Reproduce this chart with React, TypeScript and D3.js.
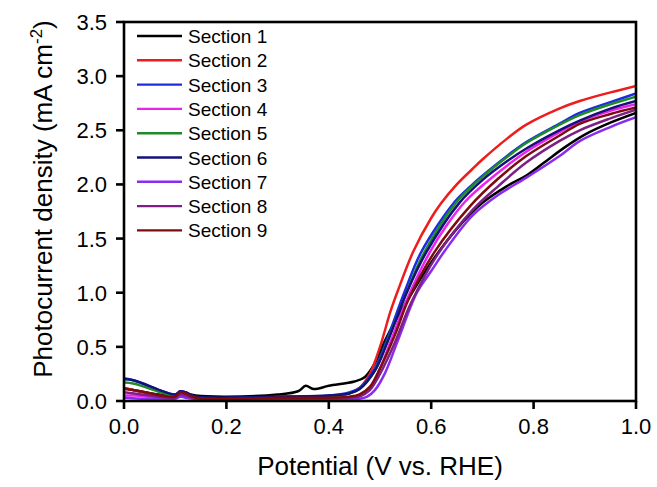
import React from "react";
import * as d3 from "d3";

type Pt = [number, number];

const seriesNames: string[] = [
  "Section 1", "Section 2", "Section 3", "Section 4", "Section 5",
  "Section 6", "Section 7", "Section 8", "Section 9",
];

const seriesColors: string[] = [
  "#000000", "#ee1c1c", "#1f2be0", "#ee22ee", "#1f8a2a",
  "#12127a", "#8a2cf0", "#7e1f84", "#7c0c10",
];

const section1: Pt[] = [
  [0, 0.12], [0.02, 0.1], [0.1, 0.05], [0.11, 0.08], [0.12, 0.08], [0.13, 0.06], [0.14, 0.05],
  [0.2, 0.04], [0.3, 0.06], [0.34, 0.09], [0.355, 0.14], [0.37, 0.11], [0.4, 0.14], [0.45, 0.18],
  [0.47, 0.22], [0.49, 0.35], [0.51, 0.56], [0.53, 0.74], [0.56, 0.98], [0.6, 1.28], [0.65, 1.59],
  [0.7, 1.83], [0.75, 1.99], [0.785, 2.08], [0.82, 2.2], [0.86, 2.34], [0.9, 2.46], [0.95, 2.57], [1.0, 2.66],
];

const section2: Pt[] = [
  [0, 0.12], [0.02, 0.1], [0.1, 0.04], [0.11, 0.09], [0.12, 0.07], [0.14, 0.03], [0.3, 0.03],
  [0.4, 0.04], [0.44, 0.07], [0.46, 0.12], [0.48, 0.25], [0.5, 0.5], [0.52, 0.82], [0.535, 1.02],
  [0.565, 1.38], [0.6, 1.69], [0.62, 1.83], [0.65, 2.0], [0.68, 2.14], [0.7, 2.23], [0.75, 2.43],
  [0.785, 2.55], [0.85, 2.7], [0.89, 2.77], [0.95, 2.85], [1.0, 2.91],
];

const section3: Pt[] = [
  [0, 0.21], [0.02, 0.19], [0.1, 0.06], [0.11, 0.09], [0.12, 0.08], [0.14, 0.04], [0.3, 0.04],
  [0.4, 0.05], [0.44, 0.08], [0.46, 0.12], [0.49, 0.3], [0.513, 0.56], [0.549, 1.02], [0.581, 1.38],
  [0.646, 1.84], [0.676, 1.98], [0.7, 2.08], [0.75, 2.27], [0.785, 2.39], [0.85, 2.56], [0.89, 2.66],
  [0.95, 2.76], [1.0, 2.84],
];

const section4: Pt[] = [
  [0, 0.05], [0.02, 0.05], [0.1, 0.03], [0.11, 0.06], [0.12, 0.05], [0.14, 0.02], [0.3, 0.02],
  [0.44, 0.03], [0.46, 0.05], [0.48, 0.12], [0.5, 0.3], [0.525, 0.6], [0.552, 0.93], [0.598, 1.38],
  [0.63, 1.62], [0.666, 1.84], [0.7, 1.99], [0.75, 2.18], [0.785, 2.3], [0.85, 2.48], [0.89, 2.58],
  [0.95, 2.68], [1.0, 2.74],
];

const section5: Pt[] = [
  [0, 0.17], [0.02, 0.16], [0.1, 0.05], [0.11, 0.08], [0.12, 0.07], [0.14, 0.03], [0.3, 0.03],
  [0.4, 0.04], [0.44, 0.07], [0.46, 0.11], [0.49, 0.28], [0.515, 0.56], [0.55, 0.98], [0.585, 1.36],
  [0.65, 1.84], [0.7, 2.07], [0.75, 2.26], [0.785, 2.38], [0.85, 2.55], [0.89, 2.64], [0.95, 2.74], [1.0, 2.81],
];

const section6: Pt[] = [
  [0, 0.2], [0.02, 0.19], [0.1, 0.06], [0.11, 0.09], [0.12, 0.08], [0.14, 0.04], [0.3, 0.04],
  [0.4, 0.05], [0.44, 0.07], [0.46, 0.11], [0.49, 0.28], [0.515, 0.55], [0.552, 1.0], [0.59, 1.37],
  [0.655, 1.83], [0.7, 2.04], [0.75, 2.22], [0.785, 2.33], [0.85, 2.5], [0.89, 2.59], [0.95, 2.7], [1.0, 2.77],
];

const section7: Pt[] = [
  [0, 0.03], [0.1, 0.02], [0.11, 0.04], [0.12, 0.03], [0.14, 0.02], [0.3, 0.02], [0.46, 0.02],
  [0.475, 0.04], [0.49, 0.1], [0.51, 0.26], [0.535, 0.56], [0.572, 1.0], [0.6, 1.2], [0.627, 1.39],
  [0.68, 1.71], [0.73, 1.9], [0.785, 2.06], [0.85, 2.26], [0.89, 2.4], [0.95, 2.53], [1.0, 2.62],
];

const section8: Pt[] = [
  [0, 0.08], [0.02, 0.07], [0.1, 0.03], [0.11, 0.06], [0.12, 0.05], [0.14, 0.02], [0.3, 0.02],
  [0.44, 0.03], [0.46, 0.04], [0.48, 0.1], [0.5, 0.25], [0.53, 0.55], [0.56, 0.9], [0.612, 1.35],
  [0.68, 1.76], [0.73, 1.98], [0.785, 2.2], [0.85, 2.4], [0.89, 2.5], [0.95, 2.61], [1.0, 2.69],
];

const section9: Pt[] = [
  [0, 0.11], [0.02, 0.1], [0.1, 0.04], [0.11, 0.08], [0.12, 0.07], [0.14, 0.03], [0.3, 0.03],
  [0.44, 0.04], [0.46, 0.06], [0.48, 0.13], [0.5, 0.3], [0.53, 0.62], [0.555, 0.93], [0.607, 1.38],
  [0.676, 1.8], [0.73, 2.05], [0.785, 2.26], [0.85, 2.45], [0.89, 2.56], [0.95, 2.65], [1.0, 2.71],
];

const allSeries: Pt[][] = [
  section1, section2, section3, section4, section5, section6, section7, section8, section9,
];

const xTicks: number[] = [0, 0.2, 0.4, 0.6, 0.8, 1.0];
const yTicks: number[] = [0, 0.5, 1.0, 1.5, 2.0, 2.5, 3.0, 3.5];

const W = 657;
const H = 487;
const M = { left: 124, right: 636, top: 22, bottom: 401 };
const FONT = "'Liberation Sans', Arial, Helvetica, sans-serif";

export default function App() {
  const x = d3.scaleLinear().domain([0, 1]).range([M.left, M.right]);
  const y = d3.scaleLinear().domain([0, 3.5]).range([M.bottom, M.top]);
  const line = d3
    .line<Pt>()
    .x((d) => x(d[0]))
    .y((d) => y(d[1]))
    .curve(d3.curveCatmullRom.alpha(0.5));

  const tickLen = 8;

  return (
    <svg
      width={W}
      height={H}
      style={{ position: "fixed", left: 0, top: 0, background: "#fff" }}
      fontFamily={FONT}
    >
      <rect x={0} y={0} width={W} height={H} fill="#fff" />
      <defs>
        <clipPath id="plotclip">
          <rect x={M.left} y={M.top} width={M.right - M.left} height={M.bottom - M.top} />
        </clipPath>
      </defs>
      <g clipPath="url(#plotclip)">
        {allSeries.map((s, i) => (
          <path
            key={i}
            d={line(s) || ""}
            fill="none"
            stroke={seriesColors[i]}
            strokeWidth={2.5}
            strokeLinejoin="round"
          />
        ))}
      </g>
      <rect
        x={M.left}
        y={M.top}
        width={M.right - M.left}
        height={M.bottom - M.top}
        fill="none"
        stroke="#000"
        strokeWidth={2.6}
      />
      {xTicks.map((t) => (
        <g key={"x" + t}>
          <line x1={x(t)} x2={x(t)} y1={M.bottom} y2={M.bottom + tickLen} stroke="#000" strokeWidth={2.6} />
          <text x={x(t)} y={434} textAnchor="middle" fontSize={22} fill="#000">
            {t.toFixed(1)}
          </text>
        </g>
      ))}
      {yTicks.map((t) => (
        <g key={"y" + t}>
          <line x1={M.left - tickLen} x2={M.left} y1={y(t)} y2={y(t)} stroke="#000" strokeWidth={2.6} />
          <text x={107} y={y(t) + 8} textAnchor="end" fontSize={22} fill="#000">
            {t.toFixed(1)}
          </text>
        </g>
      ))}
      <text x={(M.left + M.right) / 2} y={475} textAnchor="middle" fontSize={26} fill="#000">
        Potential (V vs. RHE)
      </text>
      <text
        transform={`translate(52, 199) rotate(-90)`}
        textAnchor="middle"
        fontSize={26}
        fill="#000"
      >
        Photocurrent density (mA cm
        <tspan fontSize={17} dy={-10}>-2</tspan>
        <tspan dy={10}>)</tspan>
      </text>
      {seriesNames.map((n, i) => {
        const cy = 36 + i * 24.3;
        return (
          <g key={n}>
            <line x1={137} x2={182} y1={cy} y2={cy} stroke={seriesColors[i]} strokeWidth={2.4} />
            <text x={188} y={cy + 7} fontSize={19} fill="#000">
              {n}
            </text>
          </g>
        );
      })}
    </svg>
  );
}
